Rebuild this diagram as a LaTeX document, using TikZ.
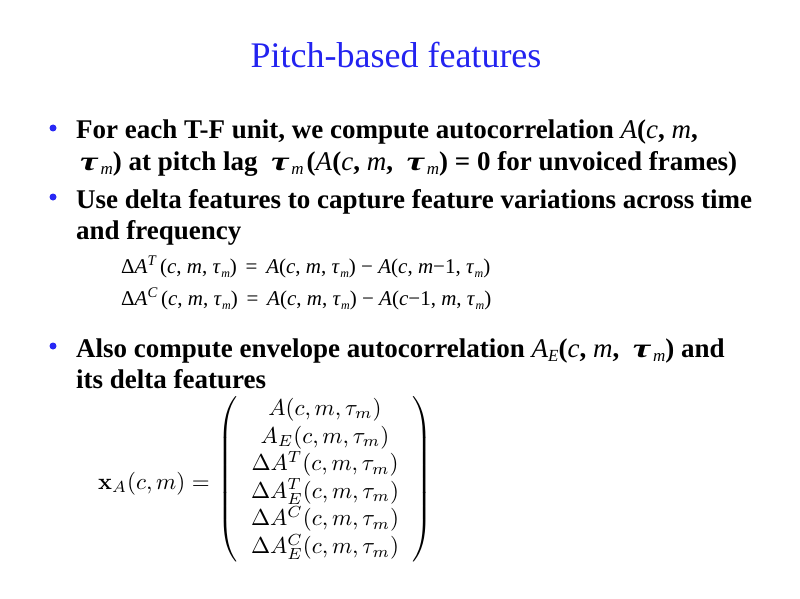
\documentclass[tikz,border=0pt]{standalone}
\usepackage{graphicx}
\usepackage[no-math]{fontspec}
\setmainfont{Liberation Serif}
\definecolor{ttl}{RGB}{35,35,240}
\definecolor{bul}{RGB}{40,40,245}
\newcommand\vi[1]{{\mdseries\itshape #1\/}}
\newcommand\sbm{\raisebox{-0.4ex}{\fontsize{17}{17}\selectfont\mdseries\itshape m}}
\newcommand\taum{\scalebox{1.45}[1]{\textit{τ}}\kern2pt\sbm}
\newcommand\esm{\raisebox{-0.45ex}{\fontsize{12}{12}\selectfont\itshape m}}
\newcommand\etau{\textit{τ}\kern0.5pt\esm}
\begin{document}
\begin{tikzpicture}[x=1pt,y=-1pt]
\useasboundingbox (0,0) rectangle (800,599);
\tikzset{
 ttlst/.style={font=\fontsize{36}{40}\selectfont, text=ttl, inner sep=0, anchor=base},
 bodyst/.style={font=\fontsize{27}{31}\selectfont\bfseries, inner sep=0, anchor=base west},
 eqst/.style={font=\fontsize{21}{24}\selectfont, inner sep=0, anchor=base west},
 bdot/.style={circle, fill=bul, inner sep=0, minimum size=7pt},
 mathst/.style={font=\fontsize{10}{12}\selectfont, inner sep=0},
}
\node[ttlst] (title) at (396,68) {Pitch-based features};

\node[bdot] (b1) at (53,128) {};
\node[bodyst] (l1) at (76,139) {For each T-F unit, we compute autocorrelation \vi{A}(\vi{c}, \vi{m},};
\node[bodyst] (l2) at (80,170) {\taum) at pitch lag \ \taum\kern3pt(\vi{A}(\vi{c}, \vi{m}, \ \taum) = 0 for unvoiced frames)};

\node[bdot] (b2) at (53,197) {};
\node[bodyst] (l3) at (76,208) {Use delta features to capture feature variations across time};
\node[bodyst] (l4) at (76,239) {and frequency};

\node[eqst] (e1) at (121,273) {Δ\textit{A}\textsuperscript{\textit{T}}\kern3pt(\textit{c}, \textit{m}, \etau) \,=\, \textit{A}(\textit{c}, \textit{m}, \etau) − \textit{A}(\textit{c}, \textit{m}−1, \etau)};
\node[eqst] (e2) at (121,305) {Δ\textit{A}\textsuperscript{\textit{C}}\kern3pt(\textit{c}, \textit{m}, \etau) \,=\, \textit{A}(\textit{c}, \textit{m}, \etau) − \textit{A}(\textit{c}−1, \textit{m}, \etau)};

\node[bdot] (b3) at (53,346) {};
\node[bodyst] (l5) at (76,357) {Also compute envelope autocorrelation \vi{A}\raisebox{-0.4ex}{\fontsize{17}{17}\selectfont\mdseries\itshape E}(\vi{c}, \vi{m}, \ \taum) and};
\node[bodyst] (l6) at (76,388) {its delta features};

\node[mathst, anchor=base west] (lhs) at (98,489) {\scalebox{2.3}{$\mathbf{x}_A(c,m) =$}};
\node[mathst] (mat) at (325,479) {\scalebox{2.3}{$\setlength\arraycolsep{6pt}\left(\begin{array}{c}
A(c,m,\tau_m)\\
A_E(c,m,\tau_m)\\
\Delta A^T(c,m,\tau_m)\\
\Delta A^T_E(c,m,\tau_m)\\
\Delta A^C(c,m,\tau_m)\\
\Delta A^C_E(c,m,\tau_m)
\end{array}\right)$}};
\end{tikzpicture}
\end{document}
